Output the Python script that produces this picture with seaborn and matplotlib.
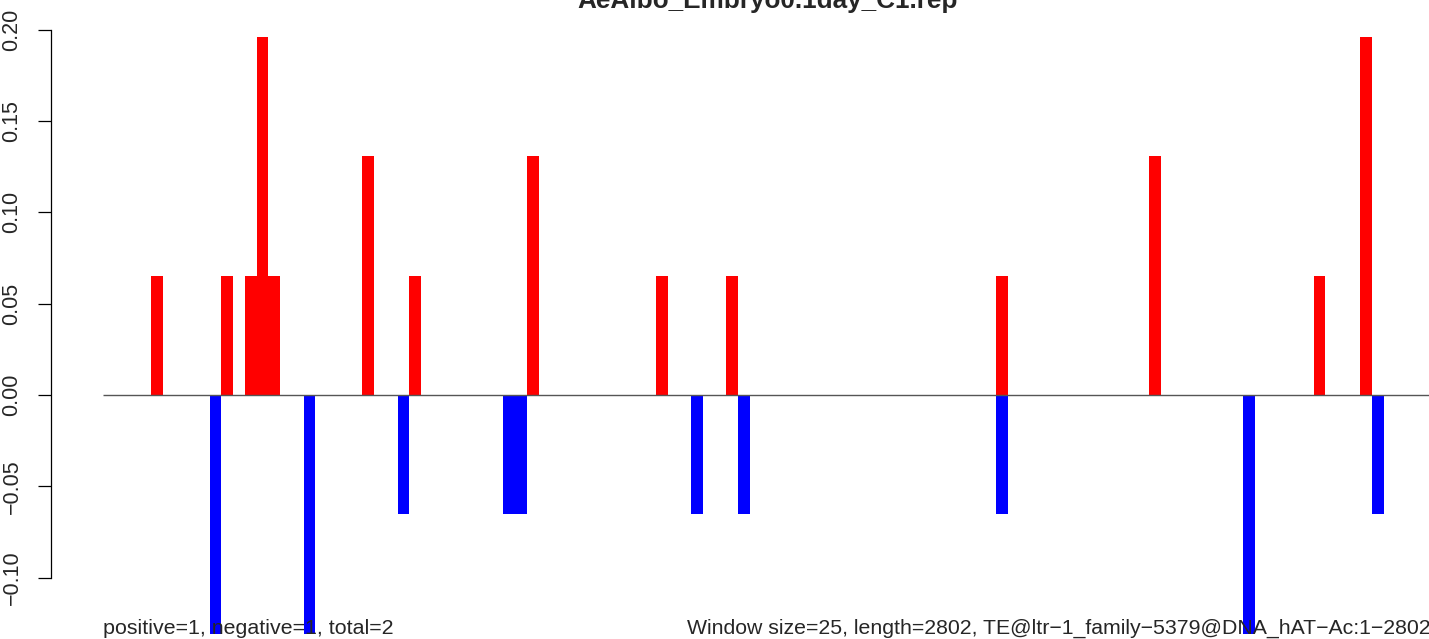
import numpy as np
import pandas as pd
import seaborn as sns
import matplotlib
matplotlib.use('Agg')
import matplotlib.pyplot as plt

# windows of 25 bp along a 2802 bp element -> 113 windows
n_windows = 113
title = 'AeAlbo_Embryo0.1day_C1.rep'

# positive strand windows (index, value)
pos_idx = [4, 10, 12, 13, 14, 22, 26, 36, 47, 53, 76, 89, 103, 107]
pos_val = [0.065, 0.065, 0.065, 0.196, 0.065, 0.131, 0.065, 0.131, 0.065, 0.065, 0.065, 0.131, 0.065, 0.196]

# negative strand windows (index, value)
neg_idx = [9, 17, 25, 34, 35, 50, 54, 76, 97, 108]
neg_val = [-0.131, -0.131, -0.065, -0.065, -0.065, -0.065, -0.065, -0.065, -0.131, -0.065]

yticks = [-0.10, -0.05, 0.00, 0.05, 0.10, 0.15, 0.20]
ytick_labels = ['\u22120.10', '\u22120.05', '0.00', '0.05', '0.10', '0.15', '0.20']

left_note = 'positive=1, negative=1, total=2'
right_note = 'Window size=25, length=2802, TE@ltr\u22121_family\u22125379@DNA_hAT\u2212Ac:1\u22122802'

sns.set_style('white')
plt.rcParams['font.family'] = ['Liberation Sans', 'DejaVu Sans']

W, H = 1429, 639
fig = plt.figure(figsize=(W / 100, H / 100), dpi=100)
ax = fig.add_axes([51 / W, 1 - 600 / H, (1484 - 51) / W, (600 - 8) / H])

pos = pd.DataFrame({'x': np.array(pos_idx) + 0.5, 'y': pos_val})
neg = pd.DataFrame({'x': np.array(neg_idx) + 0.5, 'y': neg_val})
sns.barplot(data=pos, x='x', y='y', native_scale=True, width=1, color='#ff0000',
            saturation=1, linewidth=0, ax=ax)
sns.barplot(data=neg, x='x', y='y', native_scale=True, width=1, color='#0000ff',
            saturation=1, linewidth=0, ax=ax)
for p in ax.patches:
    p.set_clip_on(False)

ax.hlines(0, -0.1, n_windows, color='#555555', lw=1, clip_on=False)

pad = 0.04 * n_windows
ax.set_xlim(-pad, n_windows + pad)
ax.set_ylim(-0.1123, 0.2119)

for s in ['top', 'right', 'bottom']:
    ax.spines[s].set_visible(False)
ax.spines['left'].set_bounds(-0.10, 0.20)
ax.spines['left'].set_linewidth(0.9)
ax.spines['left'].set_color('black')
ax.set_xticks([])
ax.set_yticks(yticks)
ax.set_yticklabels(ytick_labels, rotation=90, va='center', fontsize=15.5)
ax.tick_params(axis='y', length=9.5, width=0.9, pad=11, color='black', left=True)
ax.set_xlabel('')
ax.set_ylabel('')

ax.set_title(title, fontsize=18.8, fontweight='bold', y=1, pad=0)

fig.text(103 / W, 1 - 634 / H, left_note, fontsize=15.4, ha='left', va='baseline')
fig.text(687 / W, 1 - 634 / H, right_note, fontsize=15.3, ha='left', va='baseline')

fig.savefig('out.png', dpi=100)
